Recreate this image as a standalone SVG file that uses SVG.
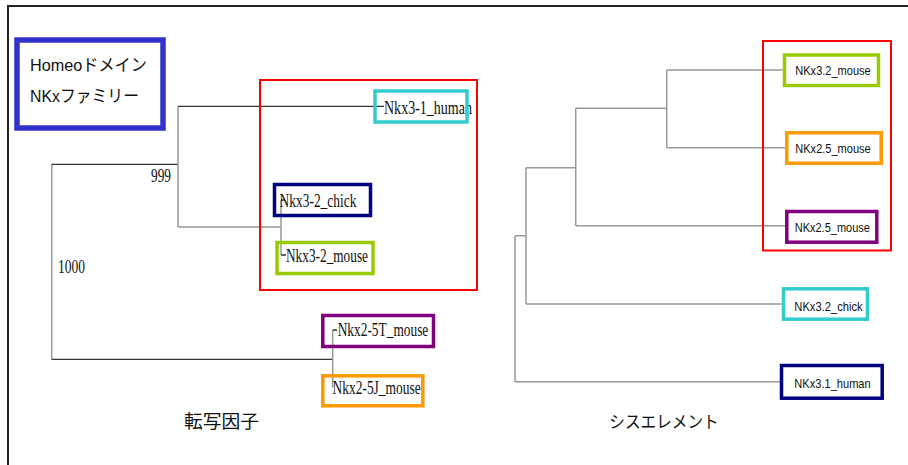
<svg xmlns="http://www.w3.org/2000/svg" width="908" height="465" viewBox="0 0 908 465">
<style>
.frame{fill:none;stroke:#222;stroke-width:2}
.grp{fill:none;stroke:#ff0000;stroke-width:2}
.box{fill:none;stroke-width:3.5}
.dk{fill:none;stroke:#333;stroke-width:1.3}
.lt{fill:none;stroke:#999;stroke-width:1.5}
.ser{font-family:"Liberation Serif","Times New Roman",serif;font-size:19px;fill:#111}
.san{font-family:"Liberation Sans",Arial,sans-serif;font-size:12.5px;fill:#111}
.jp{font-family:"Liberation Sans","Noto Sans CJK JP",sans-serif;fill:#111}
</style>
<rect width="908" height="465" fill="#fff"/>
<path class="frame" d="M8,465 V6 H908"/>
<g id="legend">
<rect x="17" y="40" width="146" height="88" fill="none" stroke="#3333cc" stroke-width="5.5"/>
<text class="jp" x="30" y="71" font-size="17" textLength="117" lengthAdjust="spacingAndGlyphs">Homeoドメイン</text>
<text class="jp" x="30" y="102" font-size="17" textLength="109" lengthAdjust="spacingAndGlyphs">NKxファミリー</text>
</g>
<g id="connectors">
<path class="lt" d="M51.7,164.3 V359.3"/>
<path class="dk" d="M51.7,164.3 H178"/>
<path class="lt" d="M178,106.3 V227"/>
<path class="dk" d="M178,106.3 H384"/>
<path class="lt" d="M178,227 H281"/>
<path class="lt" d="M281,200 V255"/>
<path class="dk" d="M281,200 H285 M281,255 H286"/>
<path class="dk" d="M51.7,359.3 H332.7"/>
<path class="lt" d="M332.7,330 V387"/>
<path class="dk" d="M332.7,330 H337 M332.7,387 H333"/>
<path class="lt" d="M666.7,70 H782.7 M666.7,70 V147.7 M666.7,147.7 H785"/>
<path class="lt" d="M575.7,108.3 H666.7 M575.7,108.3 V225.7 M575.7,225.7 H785"/>
<path class="lt" d="M526,167.7 H575.7 M526,167.7 V304 M526,304 H781.7"/>
<path class="lt" d="M515,235.7 H526 M515,235.7 V381.7 M515,381.7 H780"/>
</g>
<g id="group-tf">
<rect class="grp" x="260" y="80" width="217" height="210"/>
</g>
<g id="group-cis">
<rect class="grp" x="763" y="41" width="128" height="209.5"/>
</g>
<g id="nkx3-1-human">
<text class="ser" x="384" y="113.5" textLength="88" lengthAdjust="spacingAndGlyphs">Nkx3-1_human</text>
<rect class="box" x="375" y="91" width="92" height="31" stroke="#33cccc"/>
</g>
<g id="nkx3-2-chick">
<rect class="box" x="274.5" y="184.5" width="96" height="31" stroke="#000080"/>
<text class="ser" x="279.5" y="207" textLength="77" lengthAdjust="spacingAndGlyphs">Nkx3-2_chick</text>
</g>
<g id="nkx3-2-mouse">
<rect class="box" x="277" y="242.5" width="96" height="31" stroke="#99cc00"/>
<text class="ser" x="286" y="262" textLength="82" lengthAdjust="spacingAndGlyphs">Nkx3-2_mouse</text>
</g>
<g id="nkx2-5t-mouse">
<rect class="box" x="322.8" y="315.5" width="110.7" height="31" stroke="#800080"/>
<text class="ser" x="337.7" y="336" textLength="90.6" lengthAdjust="spacingAndGlyphs">Nkx2-5T_mouse</text>
</g>
<g id="nkx2-5j-mouse">
<rect class="box" x="322.8" y="375.8" width="100" height="30" stroke="#ff9900"/>
<text class="ser" x="332.5" y="393.5" textLength="88.2" lengthAdjust="spacingAndGlyphs">Nkx2-5J_mouse</text>
</g>
<g id="bootstrap">
<text class="ser" x="151" y="182" font-size="15" textLength="20" lengthAdjust="spacingAndGlyphs">999</text>
<text class="ser" x="58" y="273" font-size="15" textLength="27" lengthAdjust="spacingAndGlyphs">1000</text>
</g>
<g id="nkx3-2-mouse-cis">
<rect class="box" x="784.5" y="55" width="94" height="30.5" stroke="#99cc00"/>
<text class="san" x="795.3" y="74.5" textLength="75.4" lengthAdjust="spacingAndGlyphs">NKx3.2_mouse</text>
</g>
<g id="nkx2-5-mouse-cis-a">
<rect class="box" x="786.8" y="132.8" width="94.4" height="30.4" stroke="#ff9900"/>
<text class="san" x="795.3" y="153" textLength="75.4" lengthAdjust="spacingAndGlyphs">NKx2.5_mouse</text>
</g>
<g id="nkx2-5-mouse-cis-b">
<rect class="box" x="786.8" y="211.5" width="90" height="30.7" stroke="#800080"/>
<text class="san" x="794.7" y="231.5" textLength="75.3" lengthAdjust="spacingAndGlyphs">NKx2.5_mouse</text>
</g>
<g id="nkx3-2-chick-cis">
<rect class="box" x="783.5" y="288.8" width="84" height="30.4" stroke="#33cccc"/>
<text class="san" x="794.3" y="310.5" textLength="68.4" lengthAdjust="spacingAndGlyphs">NKx3.2_chick</text>
</g>
<g id="nkx3-1-human-cis">
<rect class="box" x="781.5" y="365.5" width="100.7" height="32.7" stroke="#000080"/>
<text class="san" x="794.3" y="387.5" textLength="76.4" lengthAdjust="spacingAndGlyphs">NKx3.1_human</text>
</g>
<g id="titles">
<text class="jp" x="184" y="428" font-size="18" textLength="75" lengthAdjust="spacingAndGlyphs">転写因子</text>
<text class="jp" x="609.3" y="428" font-size="17" textLength="109.4" lengthAdjust="spacingAndGlyphs">シスエレメント</text>
</g>
</svg>
